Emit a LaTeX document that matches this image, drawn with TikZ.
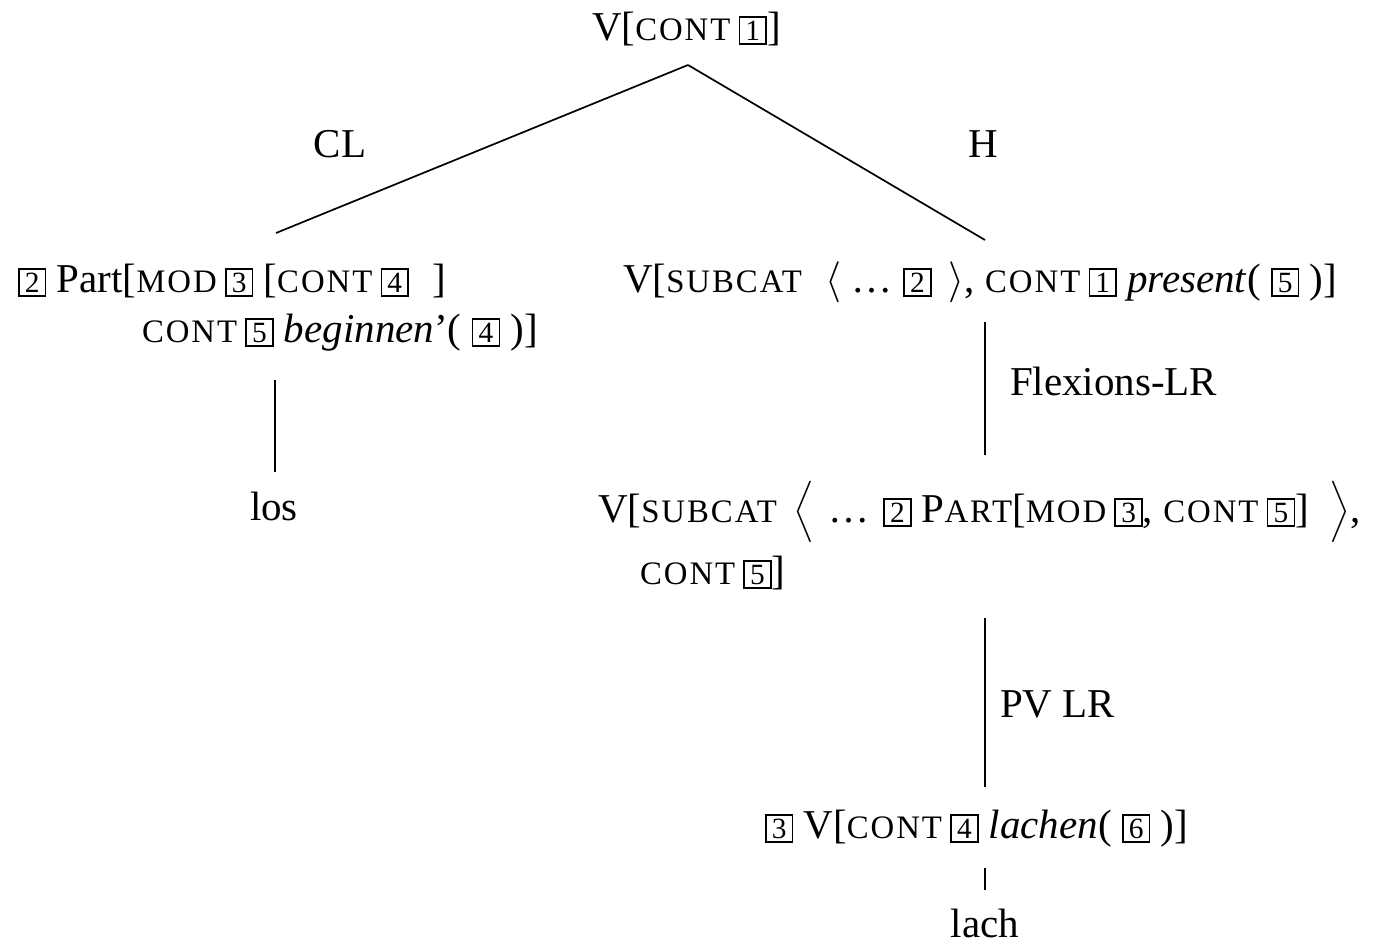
\documentclass[tikz,border=0pt]{standalone}
\usepackage{fontspec}
\setmainfont{Liberation Serif}
\newfontfamily\scfont[LetterSpace=6]{Liberation Serif}
% feature names in small capitals (faked with reduced, tracked capitals)
\newcommand\fsc[1]{{\scfont\fontsize{9.6}{11}\selectfont #1}}
% gap between a feature name and its value
\newcommand\fgap{\hspace{2.4pt}}
% boxed structure-sharing tags
\newcommand\tagbox[1]{{\fboxsep=0pt\fboxrule=0.45pt\fbox{\makebox[7.4pt]{\rule[-1pt]{0pt}{7.5pt}\fontsize{8.6}{9}\selectfont #1}}}}
\begin{document}
\begin{tikzpicture}[x=0.2927pt,y=-0.2927pt,
  every node/.style={inner sep=0pt,outer sep=0pt,font=\fontsize{12}{14}\selectfont},
  txt/.style={anchor=base west},
  ctr/.style={anchor=base},
  branch/.style={line width=0.5pt}]
\useasboundingbox (0,0) rectangle (1376,942);

% root
\node[txt] (root) at (592,40) {V[\fsc{CONT}\fgap\tagbox{1}]};
\coordinate (rootb) at (688,65);

% left daughter
\node[txt] (part1) at (18,292) {\tagbox{2} Part[\fsc{MOD}\fgap\tagbox{3} [\fsc{CONT}\fgap\tagbox{4}\hspace{7pt}]};
\node[txt] (part2) at (142,342) {\fsc{CONT}\fgap\tagbox{5} \textit{beginnen}'( \tagbox{4} )]};
\coordinate (partt) at (276,233);
\coordinate (partb) at (275,380);
\node[ctr] (los) at (274,520) {los};
\coordinate (lost) at (275,472);

% head daughter
\node[txt] (head) at (623,292) {V[\fsc{SUBCAT}\hspace{4pt} $\langle$ \ldots\ \tagbox{2}\, $\rangle$, \fsc{CONT}\fgap\tagbox{1} \textit{present}( \tagbox{5} )]};
\coordinate (headt) at (985,240);
\coordinate (headb) at (985,322);

% branch labels
\node[ctr] (cl) at (340,157) {CL};
\node[ctr] (h) at (983,157) {H};

% inflected stem
\node[txt] (stem1) at (598,522) {V[\fsc{SUBCAT}\hspace{5pt}$\Big\langle$\hspace{4pt}\ldots\hspace{4pt}\tagbox{2} P\fsc{ART}[\fsc{MOD}\fgap\tagbox{3}, \fsc{CONT}\fgap\tagbox{5}]\hspace{6pt}$\Big\rangle$,};
\node[txt] (stem2) at (640,584) {\fsc{CONT}\fgap\tagbox{5}]};
\coordinate (stemt) at (985,455);
\coordinate (stemb) at (985,618);
\node[txt] (flex) at (1010,395) {Flexions-LR};

% lexical entry
\node[txt] (lex) at (765,838) {\tagbox{3} V[\fsc{CONT}\fgap\tagbox{4} \textit{lachen}( \tagbox{6} )]};
\coordinate (lext) at (985,787);
\coordinate (lexb) at (985,868);
\node[txt] (pv) at (1000,717) {PV LR};

\node[ctr] (lach) at (985,937) {lach};
\coordinate (lacht) at (985,890);

% tree branches
\draw[branch] (rootb) -- (partt);
\draw[branch] (rootb) -- (headt);
\draw[branch] (partb) -- (lost);
\draw[branch] (headb) -- (stemt);
\draw[branch] (stemb) -- (lext);
\draw[branch] (lexb) -- (lacht);
\end{tikzpicture}
\end{document}
